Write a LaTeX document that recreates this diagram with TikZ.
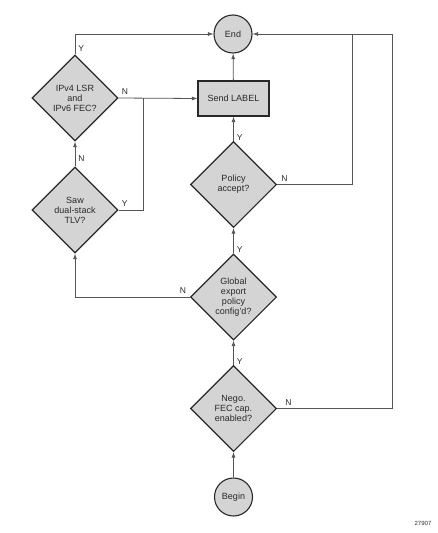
\documentclass[tikz,border=0pt]{standalone}
\usepackage{fontspec}
\setmainfont{Liberation Sans}
\usetikzlibrary{shapes.geometric,arrows.meta}

\definecolor{boxgray}{RGB}{212,212,212}
\definecolor{linegray}{RGB}{85,85,85}
\definecolor{textgray}{RGB}{40,40,40}

\tikzset{
  decision/.style={diamond, aspect=1, draw=textgray, line width=1.1pt, fill=boxgray,
    minimum width=86pt, minimum height=86pt, inner sep=0pt, align=center},
  terminal/.style={circle, draw=textgray, line width=1.1pt, fill=boxgray,
    minimum size=38pt, inner sep=0pt},
  process/.style={rectangle, draw=textgray, line width=1.1pt, fill=boxgray,
    minimum width=71pt, minimum height=35pt},
  flow/.style={draw=linegray, line width=0.8pt, -{Latex[length=5.5pt,width=4pt]}},
  wire/.style={draw=linegray, line width=0.8pt},
  lbl/.style={inner sep=0pt, font=\fontsize{8.5}{9}\selectfont, text=textgray}
}

\begin{document}
\begin{tikzpicture}[x=1pt, y=-1pt, font=\fontsize{9}{10}\selectfont, text=textgray]
    \useasboundingbox (0,0) rectangle (438,533);

    % Knoten
    \node[terminal] (End) at (233,34) {End};
    \node[process] (Send) at (233.5,98.5) {Send LABEL};
    \node[decision] (IPv) at (75,98) {IPv4 LSR\\and\\IPv6 FEC?};
    \node[decision] (Saw) at (75,210) {Saw\\dual-stack\\TLV?};
    \node[decision] (Policy) at (233.5,184.5) {Policy\\accept?};
    \node[decision] (Global) at (233.5,297) {Global\\export\\policy\\config'd?};
    \node[decision] (Nego) at (233.5,408.5) {Nego.\\FEC cap.\\enabled?};
    \node[terminal] (Begin) at (233.5,497) {Begin};
    \node[lbl, font=\fontsize{6}{7}\selectfont] (fig) at (423,523) {27907};

    % Eckpunkte
    \coordinate (cIPvTop) at (75,34);
    \coordinate (cSawJoin) at (143,210);
    \coordinate (cSawUp) at (143,98);
    \coordinate (cGlobLeft) at (75,297);
    \coordinate (cPolRight) at (352,184.5);
    \coordinate (cPolTop) at (352,34);
    \coordinate (cNegoRight) at (392,408.5);
    \coordinate (cNegoTop) at (392,34);

    % Verbindungen
    \draw[flow] (Begin) -- (Nego);
    \draw[flow] (Nego) -- node[lbl, pos=0.15, right=3pt] {Y} (Global);
    \draw[flow] (Global) -- node[lbl, pos=0.15, right=3pt] {Y} (Policy);
    \draw[flow] (Policy) -- node[lbl, pos=0.15, right=3pt] {Y} (Send);
    \draw[flow] (Send) -- (End);
    \draw[flow] (Nego.east) -- node[lbl, pos=0.1, above=3pt] {N} (cNegoRight) -- (cNegoTop) -- (End.east);
    \draw[wire] (Policy.east) -- node[lbl, pos=0.1, above=3pt] {N} (cPolRight) -- (cPolTop);
    \draw[flow] (Global.west) -- node[lbl, pos=0.06, above=3pt] {N} (cGlobLeft) -- (Saw.south);
    \draw[flow] (Saw) -- node[lbl, pos=0.3, right=3pt] {N} (IPv);
    \draw[wire] (Saw.east) -- node[lbl, pos=0.25, above=3pt] {Y} (cSawJoin) -- (cSawUp);
    \draw[flow] (IPv.east) -- node[lbl, pos=0.08, above=3pt] {N} (Send.west);
    \draw[flow] (IPv.north) -- node[lbl, pos=0.3, right=3pt] {Y} (cIPvTop) -- (End.west);
\end{tikzpicture}
\end{document}
